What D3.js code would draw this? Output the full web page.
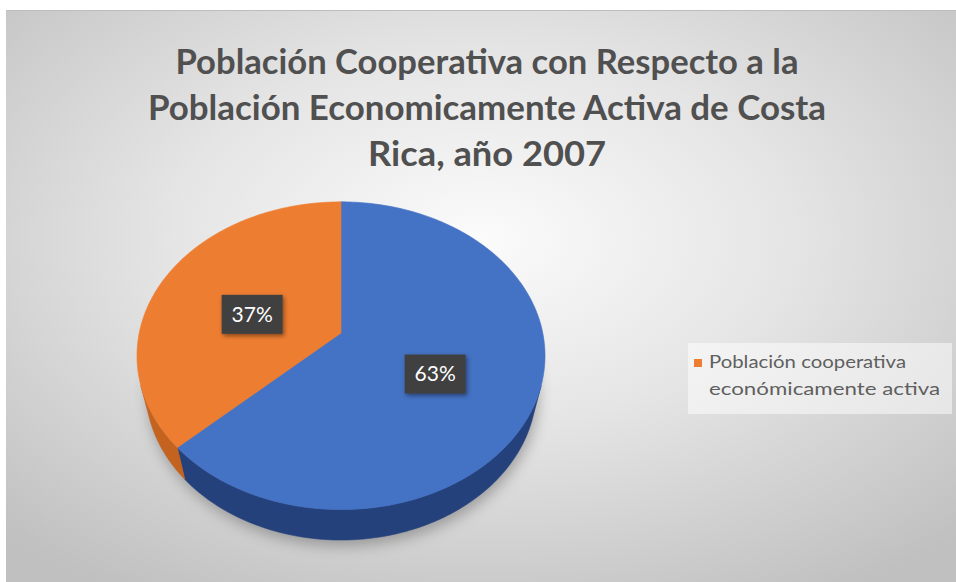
<!DOCTYPE html>
<html>
<head>
<meta charset="utf-8">
<script src="https://cdn.jsdelivr.net/npm/d3@7"></script>
<style>
  html, body { margin: 0; padding: 0; background: #ffffff; }
  svg { display: block; }
</style>
</head>
<body>
<svg id="chart" width="956" height="582"></svg>
<script>
// ---- data ----
const categories = ["", "Población cooperativa económicamente activa"];
const values = [0.63, 0.37];
const sliceColors = ["#4472C4", "#ED7D31"];
const sideColors = ["#24417c", "#c4621f"];
const titleLines = [
  "Población Cooperativa con Respecto a la",
  "Población Economicamente Activa de Costa",
  "Rica, año 2007"
];
const legendLines = ["Población cooperativa", "económicamente activa"];

const W = 956, H = 582;
const svg = d3.select("#chart");
const defs = svg.append("defs");

// chart area background: soft radial grey
const bg = defs.append("radialGradient").attr("id", "bgGrad")
  .attr("cx", "50%").attr("cy", "40%").attr("r", "72%");
bg.append("stop").attr("offset", "0%").attr("stop-color", "#fbfbfb");
bg.append("stop").attr("offset", "45%").attr("stop-color", "#e5e5e5");
bg.append("stop").attr("offset", "100%").attr("stop-color", "#c0c0c0");

svg.append("rect").attr("x", 6).attr("y", 10).attr("width", W - 6).attr("height", H - 10)
  .attr("fill", "url(#bgGrad)");
svg.append("line").attr("x1", 6).attr("x2", W).attr("y1", 10.5).attr("y2", 10.5)
  .attr("stroke", "#bdbdbd").attr("stroke-width", 1);

// ---- title ----
const titleWidths = [623, 678, 238];
const title = svg.append("g").attr("font-family", "Lato, 'Open Sans', sans-serif")
  .attr("font-weight", "bold").attr("font-size", 34).attr("fill", "#505050")
  .attr("text-anchor", "middle");
titleLines.forEach((t, i) => {
  title.append("text").attr("x", 487).attr("y", 74 + i * 46)
    .attr("textLength", titleWidths[i]).attr("lengthAdjust", "spacingAndGlyphs")
    .text(t);
});

// ---- 3D pie projection ----
const cx = 341, cy = 333, focal = 910, dist = 4.51;
const tilt = Math.acos(0.666);
const cT = Math.cos(tilt), sT = Math.sin(tilt);
const thickness = 0.259;

function project(x, y, z) {
  const depth = dist - y * sT - z * cT;
  return [cx + focal * x / depth, cy - focal * (y * cT - z * sT) / depth];
}
// d3.pie angle (0 at 12 o'clock, clockwise) -> point on the disk
function rim(a, r, y) {
  return project(r * Math.sin(a), y, -r * Math.cos(a));
}

const pie = d3.pie().sort(null).value(d => d.value);
const arcs = pie(values.map((v, i) => ({ value: v, label: categories[i], i })));
const line = d3.line().curve(d3.curveLinearClosed);

function arcPoints(a0, a1, r, y) {
  const n = Math.max(2, Math.ceil((a1 - a0) / (Math.PI / 180)));
  return d3.range(n + 1).map(k => rim(a0 + (a1 - a0) * k / n, r, y));
}

// outer wall visible where the wall normal faces the camera
const visLimit = Math.acos(-1 / (dist * cT));
const visFrom = visLimit, visTo = 2 * Math.PI - visLimit;

// shadow under the pie
const shadowF = defs.append("filter").attr("id", "pieShadow")
  .attr("x", "-20%").attr("y", "-20%").attr("width", "140%").attr("height", "140%");
shadowF.append("feGaussianBlur").attr("stdDeviation", 7);
const bottomRing = arcPoints(0, 2 * Math.PI, 1.0, -thickness).map(p => [p[0] + 2, p[1] + 6]);
svg.append("path").attr("d", line(bottomRing)).attr("fill", "#555")
  .attr("opacity", 0.45).attr("filter", "url(#pieShadow)");

const pieG = svg.append("g");

// side walls
arcs.forEach(d => {
  const a0 = Math.max(d.startAngle, visFrom), a1 = Math.min(d.endAngle, visTo);
  if (a1 <= a0) return;
  const top = arcPoints(a0, a1, 1, 0);
  const bottom = arcPoints(a0, a1, 1, -thickness).reverse();
  pieG.append("path").attr("d", line(top.concat(bottom)))
    .attr("fill", sideColors[d.data.i]).attr("stroke", sideColors[d.data.i]).attr("stroke-width", 0.6);
});

// top faces
arcs.forEach(d => {
  const pts = [project(0, 0, 0)].concat(arcPoints(d.startAngle, d.endAngle, 1, 0));
  pieG.append("path").attr("d", line(pts))
    .attr("fill", sliceColors[d.data.i]).attr("stroke", sliceColors[d.data.i]).attr("stroke-width", 0.6);
});

// ---- data labels ----
const labelShadow = defs.append("filter").attr("id", "labelShadow")
  .attr("x", "-30%").attr("y", "-30%").attr("width", "160%").attr("height", "160%");
labelShadow.append("feDropShadow").attr("dx", 1.5).attr("dy", 2).attr("stdDeviation", 2)
  .attr("flood-color", "#000").attr("flood-opacity", 0.45);

const pct = d3.format(".0%");
arcs.forEach(d => {
  const mid = (d.startAngle + d.endAngle) / 2;
  const [lx, ly] = rim(mid, 0.5, -thickness * 0.3);
  const g = svg.append("g").attr("transform", `translate(${lx},${ly})`);
  const bw = 61, bh = 39;
  g.append("rect").attr("x", -bw / 2).attr("y", -bh / 2).attr("width", bw).attr("height", bh)
    .attr("fill", "#404040").attr("filter", "url(#labelShadow)");
  g.append("text").attr("text-anchor", "middle").attr("dy", "0.35em")
    .attr("font-family", "Lato, 'Open Sans', sans-serif").attr("font-size", 21)
    .attr("fill", "#ffffff").text(pct(d.data.value));
});

// ---- legend ----
const legend = svg.append("g");
legend.append("rect").attr("x", 688).attr("y", 343).attr("width", 264).attr("height", 71)
  .attr("fill", "#ffffff").attr("opacity", 0.5);
const legendItems = arcs.filter(d => d.data.label);
legendItems.forEach(d => {
  legend.append("rect").attr("x", 694).attr("y", 359).attr("width", 8).attr("height", 8)
    .attr("fill", sliceColors[d.data.i]);
});
const legendWidths = [197, 231];
legendLines.forEach((t, i) => {
  legend.append("text").attr("x", 709).attr("y", 368 + i * 27)
    .attr("font-family", "Lato, 'Open Sans', sans-serif").attr("font-size", 18)
    .attr("fill", "#5f5f5f")
    .attr("textLength", legendWidths[i]).attr("lengthAdjust", "spacingAndGlyphs")
    .text(t);
});
</script>
</body>
</html>
